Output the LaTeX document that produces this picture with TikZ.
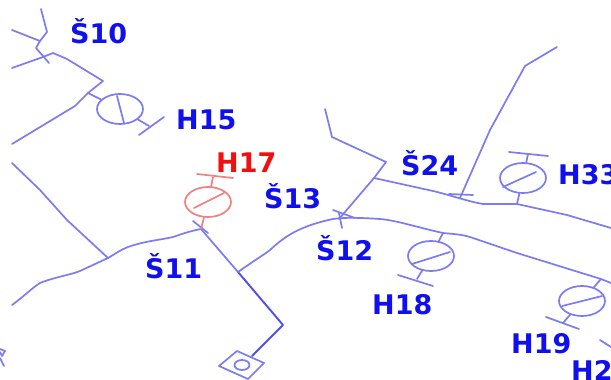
\documentclass[tikz,border=0pt]{standalone}
\usepackage{fontspec}
\setmainfont{DejaVu Sans}
\definecolor{netline}{HTML}{7C7CF2}
\definecolor{darkline}{HTML}{5050E6}
\definecolor{labelblue}{HTML}{1010EE}
\definecolor{labelred}{HTML}{F01010}
\definecolor{redsym}{HTML}{F28080}
\usetikzlibrary{shapes.geometric}
\tikzset{
  net/.style={draw=netline,line width=1.7pt,line join=round,line cap=round},
  netdark/.style={draw=darkline,line width=1.9pt,line join=round,line cap=round},
  redline/.style={draw=redsym,line width=1.7pt,line cap=round},
  meter/.style={ellipse,draw=netline,line width=1.7pt,minimum width=46pt,minimum height=30pt,inner sep=0pt},
  redmeter/.style={meter,draw=redsym},
  lab/.style={anchor=base west,inner sep=0pt,text=labelblue,font=\fontsize{27}{27}\selectfont\bfseries},
  redlab/.style={lab,text=labelred}
}
\begin{document}
\begin{tikzpicture}[x=1pt,y=-1pt]
\useasboundingbox (0,0) rectangle (611,380);
\clip (0,0) rectangle (611,380);
\fill[white] (0,0) rectangle (611,380);
% junctions
\coordinate (j1) at (40,41);
\coordinate (j2) at (43,57);
\coordinate (j3) at (88,93);
\coordinate (j4) at (108,258);
\coordinate (j5) at (201,229);
\coordinate (j6) at (238,272);
\coordinate (j7) at (339,219);
\coordinate (j8) at (374,178);
\coordinate (j9) at (460,198);
\coordinate (j10) at (517,204);
\coordinate (j11) at (443,233);
\coordinate (j12) at (601,279);
\coordinate (s1) at (283,325);
% top-left network
\draw[net] (41,9) -- (47,32) -- (j1) -- (36,48) -- (49,63);
\draw[net] (12,30) -- (j1);
\draw[net] (12,68) -- (j2) -- (53,53) -- (67,59) -- (103,81) -- (j3) -- (75,106) -- (12,144);
% left line
\draw[net] (12,163) -- (40,190) -- (67,220) -- (j4);
% main feeder S11
\draw[net] (12,305) .. controls (22,298) and (32,288) .. (40,283) .. controls (55,277) and (70,275) .. (80,271) -- (j4) .. controls (115,254) and (120,250) .. (128,247) .. controls (145,241) and (160,240) .. (173,237) .. controls (182,234) and (190,231) .. (j5);
\draw[net] (193,221) -- (208,233);
\draw[net] (j5) -- (j6);
\draw[netdark] (j6) -- (s1) -- (252,356);
% diamond
\draw[net] (237,351) -- (264,363) -- (248,379) -- (219,366) -- cycle;
\node[ellipse,draw=netline,line width=1.7pt,minimum width=15pt,minimum height=10pt,inner sep=0pt] (v) at (242,365) {};
% S12 feeder
\draw[net] (j6) .. controls (255,260) and (265,254) .. (270,250) .. controls (285,236) and (300,226) .. (333,219) .. controls (345,217) and (365,218) .. (380,219) .. controls (395,220) and (420,228) .. (j11) .. controls (452,234) and (460,234) .. (470,237) -- (517,253) -- (j12) -- (611,283);
\draw[net] (333,210) -- (355,218);
\draw[net] (339,213) -- (342,228);
\draw[net] (325,109) -- (332,137) -- (386,162) -- (j8) -- (j7);
% S24 feeder
\draw[net] (j8) -- (433,191) .. controls (450,195) and (470,202) .. (483,204) -- (j10) -- (567,215) -- (611,228);
\draw[net] (557,47) -- (525,66) -- (490,130) -- (j9);
\draw[net] (449,194) -- (473,195);
% H15
\node[meter] (h15) at (120,109) {};
\draw[net] (j3) -- (h15);
\draw[net] (117,96) -- (124,123);
\draw[net] (h15) -- (149,126);
\draw[net] (139,135) -- (164,117);
% H17
\node[redmeter] (h17) at (208,202) {};
\draw[redline] (197,174) -- (233,178);
\draw[redline] (213,177) -- (h17);
\draw[redline] (194,208) -- (224,193);
\draw[redline] (h17) -- (j5);
% H33
\node[meter] (h33) at (523,178) {};
\draw[net] (509,152) -- (548,156);
\draw[net] (528,154) -- (h33);
\draw[net] (503,187) -- (536,172);
\draw[net] (h33) -- (j10);
% H18
\node[meter] (h18) at (431,256) {};
\draw[net] (j11) -- (h18);
\draw[net] (412,264) -- (450,252);
\draw[net] (h18) -- (417,279);
\draw[net] (398,275) -- (433,286);
% H19
\node[meter] (h19) at (582,301) {};
\draw[net] (j12) -- (h19);
\draw[net] (562,306) -- (602,296);
\draw[net] (h19) -- (563,323);
\draw[net] (546,317) -- (579,329);
% bottom-right fragment
\draw[net] (600,340) -- (611,347);
% left fragment
\draw[net] (0,349) -- (5,351) -- (2,356) -- (0,352);
\draw[net] (0,358) -- (4,366);
% labels
\node[lab] (t10) at (70,43) {Š10};
\node[lab] (t15) at (176,129) {H15};
\node[redlab] (t17) at (216,172) {H17};
\node[lab] (t13) at (264,208) {Š13};
\node[lab] (t24) at (401,175) {Š24};
\node[lab] (t33) at (558,184) {H33};
\node[lab] (t12) at (316,260) {Š12};
\node[lab] (t11) at (145,278) {Š11};
\node[lab] (t18) at (372,314) {H18};
\node[lab] (t19) at (511,353) {H19};
\node[lab] (t2) at (571,380) {H2};
\end{tikzpicture}
\end{document}
